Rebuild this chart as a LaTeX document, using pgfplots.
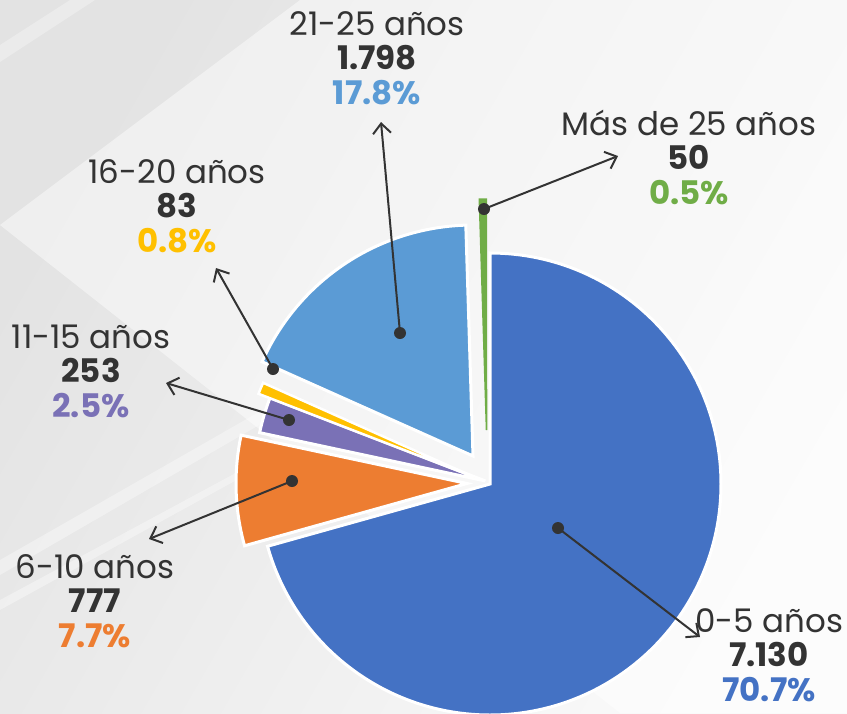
\documentclass[border=0pt]{standalone}
\usepackage{pgfplots}
\pgfplotsset{compat=1.18}
\usepackage{fontspec}
\setmainfont{Poppins}
\usetikzlibrary{arrows.meta}
\definecolor{cA}{HTML}{4472C4}
\definecolor{cB}{HTML}{ED7D31}
\definecolor{cC}{HTML}{7A71B6}
\definecolor{cD}{HTML}{FFC000}
\definecolor{cE}{HTML}{5B9BD5}
\definecolor{cF}{HTML}{70AD47}
\definecolor{txt}{HTML}{333333}
\def\total{10091}
% #1 cx, #2 cy (pixels), #3 count before, #4 count, #5 colour, #6 border colour, #7 border width
\newcommand{\sector}[7]{%
  \fill[#5, draw=#6, line width=#7, line join=miter]
    (axis cs:#1,#2) -- ++({90-360*(#3/\total)}:231pt)
    arc[start angle={90-360*(#3/\total)}, delta angle={-360*(#4/\total)}, radius=231pt] -- cycle;}
\newcommand{\lab}[7]{% x, baseline, -, name, number, pct, colour
  \node[anchor=base, text=txt, font=\fontsize{32.5}{36}\selectfont] at (axis cs:#1,#2) {#4};
  \node[anchor=base, text=txt, font=\fontsize{32.5}{36}\selectfont\bfseries] at (axis cs:#1,#2+34.5) {#5};
  \node[anchor=base, text=#7, font=\fontsize{32.5}{36}\selectfont\bfseries] at (axis cs:#1,#2+69.5) {#6};}
\newcommand{\pointer}[4]{%
  \draw[txt, line width=2pt, -{Straight Barb[length=10pt,width=18pt,line width=2pt]}] (axis cs:#1,#2) -- (axis cs:#3,#4);
  \fill[txt] (axis cs:#1,#2) circle[radius=6pt];}
\begin{document}
\begin{tikzpicture}
\begin{axis}[hide axis, scale only axis, x=1pt, y=1pt,
  xmin=0, xmax=847, ymin=0, ymax=713, y dir=reverse, clip=true]
% background
\fill[left color=black!11, right color=black!2, shading angle=60] (axis cs:0,0) rectangle (axis cs:847,713);
\fill[white, opacity=0.45] (axis cs:0,225) -- (axis cs:300,0) -- (axis cs:847,0) -- (axis cs:847,713) -- (axis cs:620,713) -- cycle;
\fill[white, opacity=0.35] (axis cs:0,560) -- (axis cs:280,400) -- (axis cs:285,410) -- (axis cs:0,575) -- cycle;
\fill[white, opacity=0.35] (axis cs:0,600) -- (axis cs:260,460) -- (axis cs:262,466) -- (axis cs:0,610) -- cycle;
\fill[white, opacity=0.3] (axis cs:0,45) -- (axis cs:70,0) -- (axis cs:95,0) -- (axis cs:0,62) -- cycle;
% slices: values 7130, 777, 253, 83, 1798, 50
\sector{490}{484}{0}{7130}{cA}{white}{3pt}
\sector{467}{483.5}{7130}{777}{cB}{white}{3pt}
\sector{485.5}{481}{7907}{253}{cC}{white}{3pt}
\sector{474}{477}{8160}{83}{cD}{white}{2.5pt}
\sector{473}{456}{8243}{1798}{cE}{white}{3pt}
\sector{486.5}{430}{10041}{50}{cF}{cF}{1.5pt}
% pointers
\pointer{400}{333}{381}{122}
\pointer{484}{209}{618}{156}
\pointer{273}{369}{216}{268}
\pointer{289}{420}{166}{383}
\pointer{292}{481}{149}{539}
\pointer{558}{528}{700}{637}
% labels
\lab{377}{35}{}{21-25 años}{1.798}{17.8\%}{cE}
\lab{689}{135}{}{Más de 25 años}{50}{0.5\%}{cF}
\lab{177}{183}{}{16-20 años}{83}{0.8\%}{cD}
\lab{91}{348}{}{11-15 años}{253}{2.5\%}{cC}
\lab{95}{578}{}{6-10 años}{777}{7.7\%}{cB}
\lab{769}{632}{}{0-5 años}{7.130}{70.7\%}{cA}
\end{axis}
\end{tikzpicture}
\end{document}
